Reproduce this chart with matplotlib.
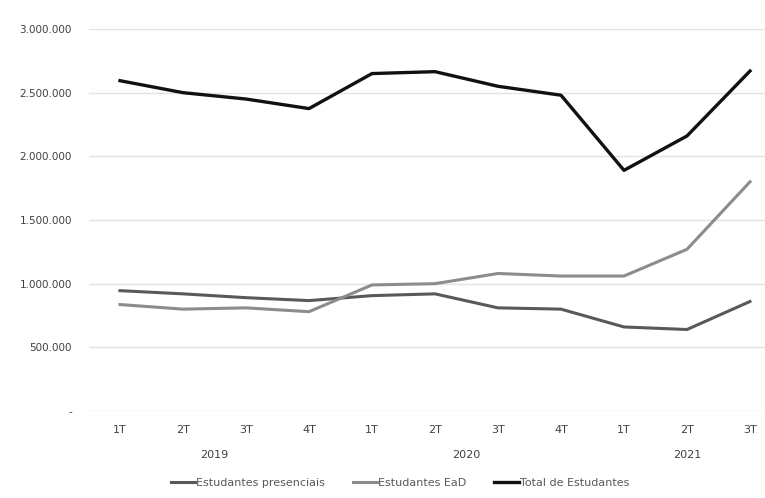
import matplotlib.pyplot as plt
from matplotlib.ticker import FuncFormatter

quarters = ["1T", "2T", "3T", "4T", "1T", "2T", "3T", "4T", "1T", "2T", "3T"]
years = ["2019", "2020", "2021"]
year_spans = [(0, 3), (4, 7), (8, 10)]

presenciais = [945000, 920000, 890000, 867000, 906000, 920000, 810000, 800000, 660000, 640000, 860000]
ead = [836000, 800000, 810000, 780000, 990000, 1000000, 1080000, 1060000, 1060000, 1270000, 1800000]
total = [2594000, 2500000, 2450000, 2375000, 2650000, 2665000, 2550000, 2480000, 1890000, 2160000, 2670000]

fig = plt.figure(figsize=(7.65, 4.98), dpi=100)
ax = fig.add_axes([88.5 / 765, 87 / 498, (765 - 88.5) / 765, 382 / 498])

x = list(range(len(quarters)))
ax.plot(x, presenciais, color="#595959", lw=2.2, label="Estudantes presenciais")
ax.plot(x, ead, color="#8c8c8c", lw=2.2, label="Estudantes EaD")
ax.plot(x, total, color="#111111", lw=2.4, label="Total de Estudantes")

ax.set_ylim(0, 3000000)
ax.set_xlim(-0.5, 10 + 15 / 63)
ax.set_yticks([0, 500000, 1000000, 1500000, 2000000, 2500000, 3000000])


def fmt(v, pos):
    if v == 0:
        return "-"
    return f"{int(v):,}".replace(",", ".")


ax.yaxis.set_major_formatter(FuncFormatter(fmt))
ax.grid(axis="y", color="#e3e3e3", lw=1)
ax.set_axisbelow(True)
for s in ax.spines.values():
    s.set_visible(False)
ax.tick_params(axis="y", length=0, labelsize=7.5, labelcolor="#404040", pad=12)
ax.set_xticks(x)
ax.set_xticklabels(quarters)
ax.tick_params(axis="x", length=0, labelsize=8, labelcolor="#404040", pad=10)

for name, (a, b) in zip(years, year_spans):
    ax.text((a + b) / 2, -0.115, name, transform=ax.get_xaxis_transform(),
            ha="center", va="center", fontsize=8, color="#404040")

leg = fig.legend(loc="center", bbox_to_anchor=(400 / 765, 1 - 483 / 498), ncol=3,
                 frameon=False, fontsize=8, handlelength=2.2, columnspacing=2.5,
                 handletextpad=0.1)
for t in leg.get_texts():
    t.set_color("#595959")

fig.savefig("out.png", dpi=100)
